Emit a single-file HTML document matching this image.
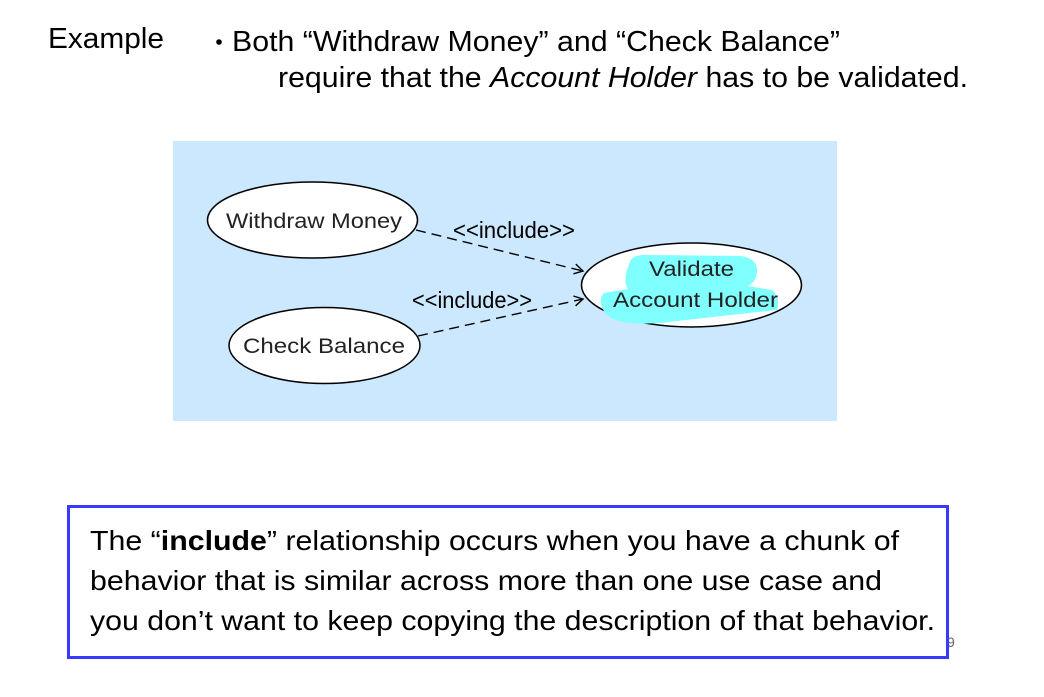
<!DOCTYPE html>
<html>
<head>
<meta charset="utf-8">
<style>
  html, body { margin: 0; padding: 0; background: #ffffff; }
  body { width: 1044px; height: 697px; overflow: hidden; }
  svg { display: block; }
  text { font-family: "Liberation Sans", Arial, sans-serif; }
</style>
</head>
<body>
<svg width="1044" height="697" viewBox="0 0 1044 697" xmlns="http://www.w3.org/2000/svg">
  <rect x="0" y="0" width="1044" height="697" fill="#ffffff"/>

  <!-- Header -->
  <text x="48" y="48" font-size="29" fill="#000" textLength="116" lengthAdjust="spacingAndGlyphs">Example</text>
  <circle cx="219" cy="42" r="2.8" fill="#000"/>
  <text x="232" y="51" font-size="29" fill="#000" textLength="608" lengthAdjust="spacingAndGlyphs">Both “Withdraw Money” and “Check Balance”</text>
  <text x="278" y="87" font-size="29" fill="#000" textLength="690" lengthAdjust="spacingAndGlyphs">require that the <tspan font-style="italic">Account Holder</tspan> has to be validated.</text>

  <!-- Diagram background -->
  <rect x="173" y="141" width="664" height="280" fill="#cce8fe"/>

  <!-- Connectors -->
  <line x1="416" y1="230" x2="582" y2="270.8" stroke="#000" stroke-width="1.4" stroke-dasharray="10,6"/>
  <polyline points="575.8,264.1 583,271 573.4,273.8" fill="none" stroke="#000" stroke-width="1.4"/>
  <line x1="418" y1="336" x2="582" y2="299.2" stroke="#000" stroke-width="1.4" stroke-dasharray="10,6"/>
  <polyline points="573.4,296 583,299 575.6,305.8" fill="none" stroke="#000" stroke-width="1.4"/>

  <!-- Use cases -->
  <ellipse cx="312.5" cy="220" rx="105" ry="38" fill="#ffffff" stroke="#000" stroke-width="1.5"/>
  <text x="226" y="228" font-size="21" fill="#222" textLength="176" lengthAdjust="spacingAndGlyphs">Withdraw Money</text>

  <ellipse cx="324.5" cy="345.5" rx="95.5" ry="38" fill="#ffffff" stroke="#000" stroke-width="1.5"/>
  <text x="243" y="353" font-size="21" fill="#222" textLength="162" lengthAdjust="spacingAndGlyphs">Check Balance</text>

  <ellipse cx="691.5" cy="285" rx="110" ry="42" fill="#ffffff" stroke="#000" stroke-width="1.5"/>
  <!-- highlight blob -->
  <path d="M 630 262 Q 632 254 650 255 L 740 256 Q 758 258 757 272 Q 756 282 748 286 L 772 290 Q 781 298 777 310 Q 720 316 660 323 Q 615 326 605 313 Q 597 300 604 293 L 628 289 Q 622 280 630 262 Z" fill="#80ffff"/>
  <text x="649" y="276" font-size="21" fill="#222" textLength="85" lengthAdjust="spacingAndGlyphs">Validate</text>
  <text x="613" y="307" font-size="21" fill="#222" textLength="165" lengthAdjust="spacingAndGlyphs">Account Holder</text>

  <!-- Labels -->
  <text x="453" y="238" font-size="23" fill="#000" textLength="122" lengthAdjust="spacingAndGlyphs">&lt;&lt;include&gt;&gt;</text>
  <text x="412" y="308" font-size="23" fill="#000" textLength="120" lengthAdjust="spacingAndGlyphs">&lt;&lt;include&gt;&gt;</text>

  <!-- Page number -->
  <text x="947" y="647" font-size="14" fill="#666">9</text>

  <!-- Bottom box -->
  <rect x="68.5" y="506.5" width="879" height="151" fill="none" stroke="#3a3aff" stroke-width="3"/>
  <text x="90" y="550" font-size="28" fill="#000" textLength="809" lengthAdjust="spacingAndGlyphs">The “<tspan font-weight="bold">include</tspan>” relationship occurs when you have a chunk of</text>
  <text x="90" y="590" font-size="28" fill="#000" textLength="792" lengthAdjust="spacingAndGlyphs">behavior that is similar across more than one use case and</text>
  <text x="90" y="630" font-size="28" fill="#000" textLength="845" lengthAdjust="spacingAndGlyphs">you don’t want to keep copying the description of that behavior.</text>
</svg>
</body>
</html>
